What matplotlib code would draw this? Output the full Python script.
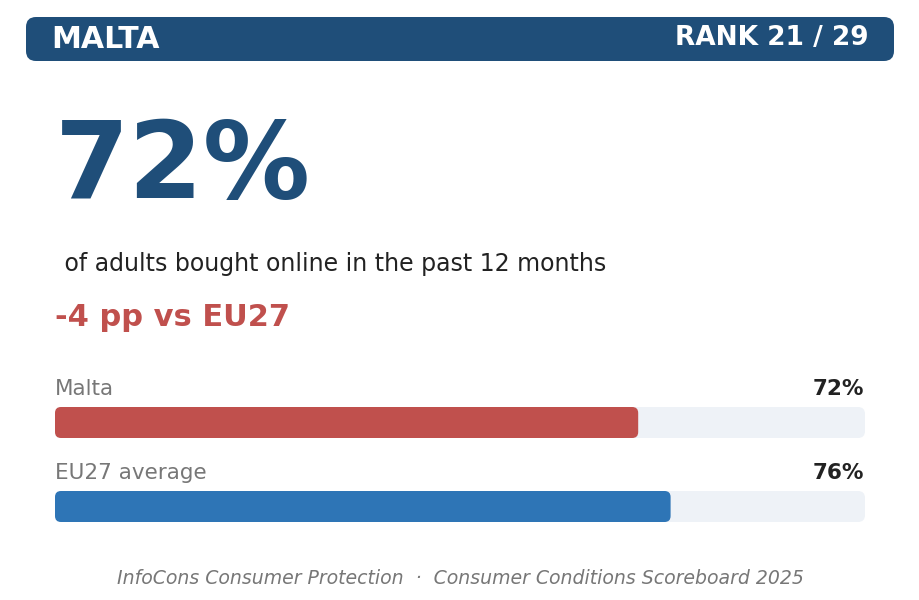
import matplotlib
matplotlib.use("Agg")
from matplotlib import pyplot as plt
from matplotlib.patches import FancyBboxPatch

# data
country = "MALTA"
rank = 21
rank_total = 29
labels = ["Malta", "EU27 average"]
values = [72, 76]
bar_colors = ["#c0504d", "#2e75b6"]
subtitle = " of adults bought online in the past 12 months"
footer = "InfoCons Consumer Protection  \u00b7  Consumer Conditions Scoreboard 2025"

navy = "#1f4e79"
track = "#eef2f7"

fig = plt.figure(figsize=(9.19, 6), dpi=100)
fig.patch.set_facecolor("white")

# full figure axes in pixel units for the text
ax = fig.add_axes([0, 0, 1, 1])
ax.set_xlim(0, 919)
ax.set_ylim(600, 0)
ax.axis("off")

# header band
ax.add_patch(FancyBboxPatch((26, 17), 868, 44, boxstyle="round,pad=0,rounding_size=10",
                            facecolor=navy, edgecolor="none"))
ax.text(51, 39, country, color="white", fontsize=21.6, fontweight="bold", va="center", ha="left")
ax.text(869, 38, f"RANK {rank} / {rank_total}", color="white", fontsize=19, fontweight="bold",
        va="center", ha="right")

# headline number
ax.text(55, 168, f"{values[0]}%", color=navy, fontsize=77, fontweight="bold", va="center", ha="left")
ax.text(57, 264, subtitle, color="#222222", fontsize=17, va="center", ha="left")

diff = values[0] - values[1]
ax.text(55, 317, f"{diff:d} pp vs EU27", color="#c0504d", fontsize=22,
        fontweight="bold", va="center", ha="left")

# footer
ax.text(460, 578, footer, color="#777777", fontsize=13.6, style="italic", va="center", ha="center")

# bars axes: x in percent, y in pixels
bax = fig.add_axes([55 / 919, 1 - 530 / 600, 810 / 919, 130 / 600])
bax.set_xlim(0, 100)
bax.set_ylim(530, 400)
bax.axis("off")

aspect = 8.1  # px per percent on x
bar_top = [407, 491]
bar_h = 31
for i in range(len(labels)):
    bax.add_patch(FancyBboxPatch((0, bar_top[i]), 100, bar_h,
                                 boxstyle=f"round,pad=0,rounding_size={7 / aspect}",
                                 mutation_aspect=aspect, facecolor=track, edgecolor="none"))
    bax.add_patch(FancyBboxPatch((0, bar_top[i]), values[i], bar_h,
                                 boxstyle=f"round,pad=0,rounding_size={6 / aspect}",
                                 mutation_aspect=aspect, facecolor=bar_colors[i], edgecolor="none"))
    ax.text(55, bar_top[i] - 18, labels[i], color="#777777", fontsize=15.5, va="center", ha="left")
    ax.text(864, bar_top[i] - 18, f"{values[i]}%", color="#222222", fontsize=15.5,
            fontweight="bold", va="center", ha="right")

plt.savefig("out.png", dpi=100, facecolor="white")
